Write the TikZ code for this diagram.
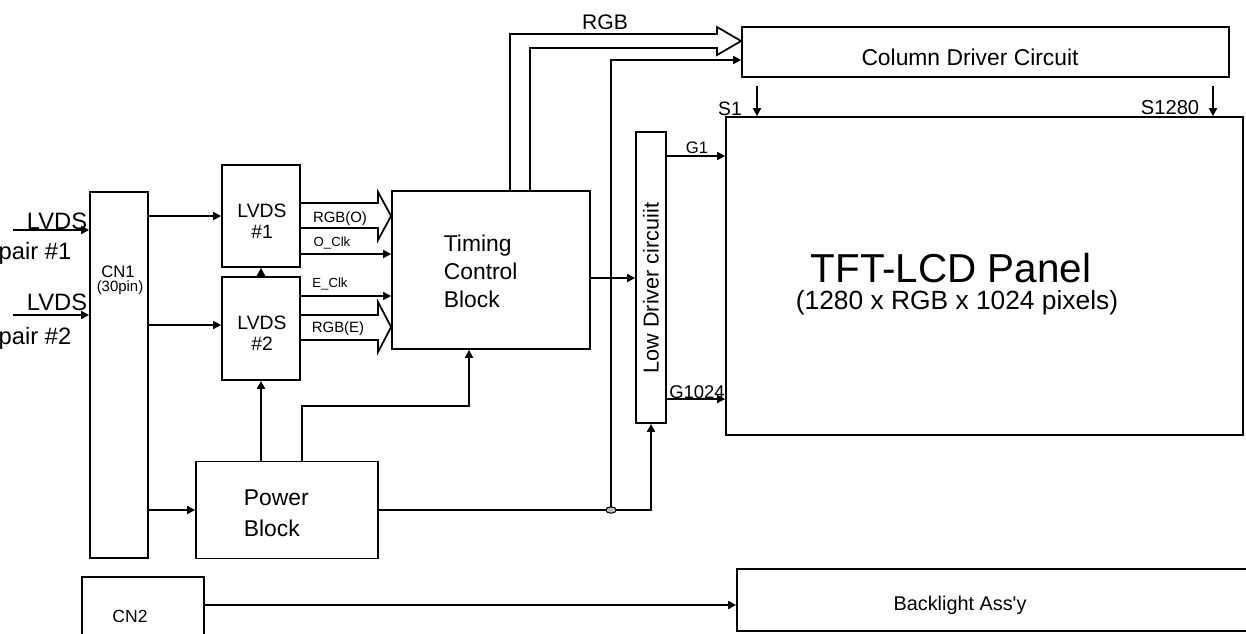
\documentclass[tikz,border=0pt]{standalone}
\usepackage{fontspec}
\setmainfont{Liberation Sans}
\usetikzlibrary{arrows.meta}
\newlength\pxu
\setlength\pxu{0.02cm}

\begin{document}
\begin{tikzpicture}[x=0.02cm, y=-0.02cm, line width=1pt,
    blk/.style={draw, inner sep=0pt, align=center},
    arr/.style={-{Triangle[length=4.5pt,width=4.5pt]}},
    lbl/.style={inner sep=0pt, align=left},
    sig/.style={inner sep=0pt, font=\fontsize{7.5}{8}\selectfont}]

    \clip (0,0) rectangle (1246,633);

    % blocks
    \node[blk, minimum width=58*\pxu, minimum height=366*\pxu] (cn1) at (119,375) {};
    \node[blk, minimum width=78*\pxu, minimum height=102*\pxu] (lvds1) at (261,216) {};
    \node[blk, minimum width=78*\pxu, minimum height=103*\pxu] (lvds2) at (261,328.5) {};
    \node[blk, minimum width=198*\pxu, minimum height=158*\pxu] (timing) at (491,270) {};
    \node[blk, minimum width=182*\pxu, minimum height=97*\pxu] (power) at (287,510) {};
    \node[blk, minimum width=30*\pxu, minimum height=291*\pxu] (lowdrv) at (651,277.5) {};
    \node[blk, minimum width=487*\pxu, minimum height=50*\pxu] (col) at (985.5,52) {};
    \node[blk, minimum width=517*\pxu, minimum height=318*\pxu] (panel) at (984.5,276) {};
    \node[blk, minimum width=122*\pxu, minimum height=73*\pxu] (cn2) at (143,613.5) {};
    \node[blk, minimum width=523*\pxu, minimum height=62*\pxu] (back) at (998.5,600) {};

    % block texts
    \node[lbl, font=\fontsize{11}{12}\selectfont] (lvds1a) at (262,211) {LVDS};
    \node[lbl, font=\fontsize{11}{12}\selectfont] (lvds1b) at (262,232) {\#1};
    \node[lbl, font=\fontsize{11}{12}\selectfont] (lvds2a) at (262,323) {LVDS};
    \node[lbl, font=\fontsize{11}{12}\selectfont] (lvds2b) at (262,344) {\#2};
    \node[lbl, font=\fontsize{9.5}{11}\selectfont] (cn1txt) at (118,272) {CN1};
    \node[lbl, font=\fontsize{8.5}{10}\selectfont] (cn1pin) at (120,288) {(30pin)};
    \node[lbl, anchor=west, font=\fontsize{13}{16}\selectfont] (timtxt) at (443,271) {Timing\\Control\\Block};
    \node[lbl, anchor=west, font=\fontsize{13}{17.5}\selectfont] (powtxt) at (243,513) {Power\\Block};
    \node[lbl, rotate=90, font=\fontsize{12.3}{14}\selectfont] (lowtxt) at (651,288) {Low Driver circuiit};
    \node[lbl, font=\fontsize{13}{14}\selectfont] (coltxt) at (970,57) {Column Driver Circuit};
    \node[lbl, font=\fontsize{23}{26}\selectfont] (tfttxt) at (951,268) {TFT-LCD Panel};
    \node[lbl, font=\fontsize{15}{17}\selectfont] (pixtxt) at (957,303) {(1280 x RGB x 1024 pixels)};
    \node[lbl, font=\fontsize{10}{12}\selectfont] (cn2txt) at (130,616) {CN2};
    \node[lbl, font=\fontsize{11.3}{13}\selectfont] (backtxt) at (960,605) {Backlight Ass\textquotesingle y};

    % inputs
    \coordinate (in1) at (13,230);
    \coordinate (in2) at (13,315);
    \draw[arr] (in1) -- (cn1.west |- in1);
    \draw[arr] (in2) -- (cn1.west |- in2);
    \node[lbl, font=\fontsize{13.5}{15}\selectfont] (in1lbl) at (57,221) {LVDS};
    \node[lbl, font=\fontsize{13.5}{15}\selectfont] (in1pair) at (35,253) {pair \#1};
    \node[lbl, font=\fontsize{13.5}{15}\selectfont] (in2lbl) at (57,302) {LVDS};
    \node[lbl, font=\fontsize{13.5}{15}\selectfont] (in2pair) at (35,338) {pair \#2};

    % CN1 outputs
    \draw[arr] (cn1.east |- lvds1.west) -- (lvds1.west);
    \draw[arr] (cn1.east |- 0,325) -- (lvds2.west |- 0,325);
    \draw[arr] (cn1.east |- power.west) -- (power.west);

    % LVDS to timing
    \draw (lvds1.east |- 0,203) -- (378,203) -- (378,192) -- (timing.west |- 0,216)
        -- (378,240) -- (378,228) -- (lvds1.east |- 0,228);
    \draw[arr] (lvds1.east |- 0,254) -- (timing.west |- 0,254);
    \draw[arr] (lvds2.east |- 0,296) -- (timing.west |- 0,296);
    \draw (lvds2.east |- 0,315) -- (378,315) -- (378,302) -- (timing.west |- 0,327)
        -- (378,352) -- (378,340) -- (lvds2.east |- 0,340);
    \node[sig, font=\fontsize{8.5}{9}\selectfont] (rgbo) at (340,219) {RGB(O)};
    \node[sig] (oclk) at (332,243) {O\_Clk};
    \node[sig] (eclk) at (330,284) {E\_Clk};
    \node[sig, font=\fontsize{8.5}{9}\selectfont] (rgbe) at (338,329) {RGB(E)};

    % power
    \draw[arr] (lvds2.north) -- (lvds1.south);
    \draw[arr] (power.north -| lvds2.south) -- (lvds2.south);
    \draw[arr] (power.north -| 302,0) -- (302,406) -| (timing.south -| 469,0);
    \draw[arr] (power.east) -| (lowdrv.south);
    \coordinate (jct) at (611,510);
    \draw[arr] (jct) |- (col.west |- 0,60);
    \draw[fill=gray!50, line width=0.6pt] (jct) ellipse [x radius=3pt, y radius=1.8pt];

    % timing outputs
    \draw[arr] (timing.east |- 0,278) -- (lowdrv.west |- 0,278);
    \draw (timing.north -| 510,0) -- (510,34) -- (717,34) -- (717,27) -- (col.west |- 0,41)
        -- (717,55) -- (717,48) -- (530,48) -- (timing.north -| 530,0);
    \node[lbl, font=\fontsize{12}{14}\selectfont] (rgblbl) at (605,22) {RGB};

    % gate and source lines
    \draw[arr] (lowdrv.east |- 0,156) -- (panel.west |- 0,156);
    \draw[arr] (lowdrv.east |- 0,399) -- (panel.west |- 0,399);
    \node[lbl, font=\fontsize{9.5}{11}\selectfont] (g1) at (697,148) {G1};
    \node[lbl, font=\fontsize{10.5}{12}\selectfont] (g1024) at (697,392) {G1024};
    \draw[arr, shorten <=4.5pt] (col.south -| 757,0) -- (panel.north -| 757,0);
    \draw[arr, shorten <=4.5pt] (col.south -| 1213,0) -- (panel.north -| 1213,0);
    \node[lbl, font=\fontsize{11}{12}\selectfont] (s1) at (730,109) {S1};
    \node[lbl, font=\fontsize{11.5}{12}\selectfont] (s1280) at (1170,108) {S1280};

    % backlight
    \draw[arr] (cn2.east |- 0,605) -- (back.west |- 0,605);
\end{tikzpicture}
\end{document}
